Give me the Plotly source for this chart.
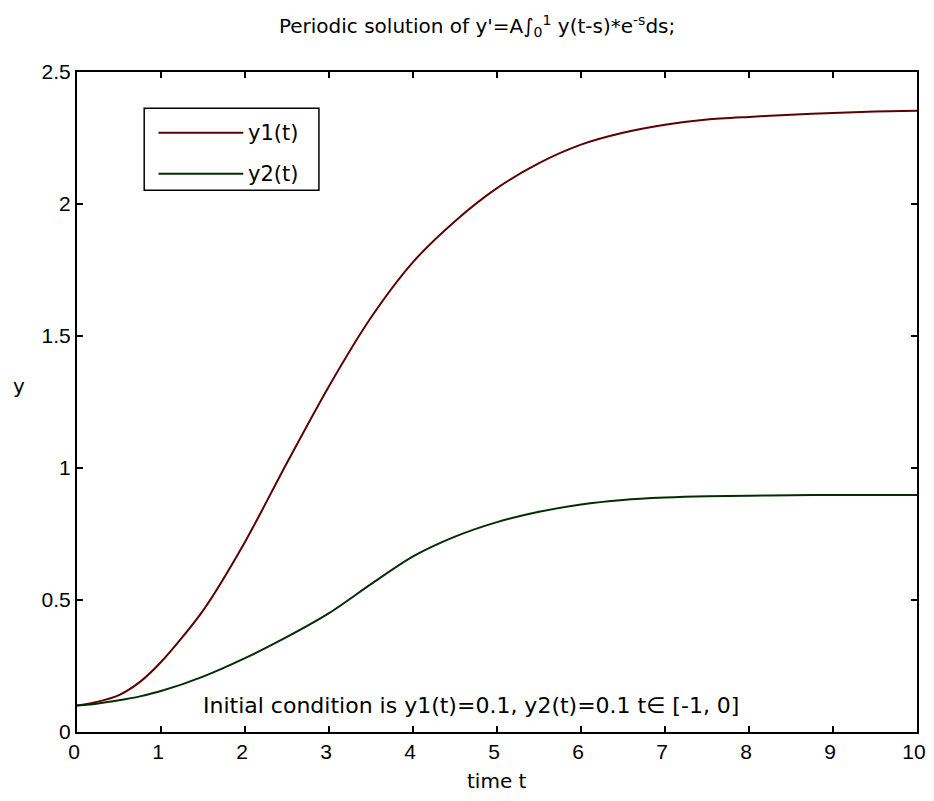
import plotly.graph_objects as go

# values
t = [0, 0.25, 0.5, 0.75, 1, 1.5, 2, 2.5, 3, 3.5, 4, 4.5, 5, 5.5, 6, 6.5, 7, 7.5, 8, 8.5, 9, 9.5, 10]
y1 = [0.10, 0.115, 0.14, 0.19, 0.265, 0.46, 0.72, 1.02, 1.31, 1.57, 1.78, 1.935, 2.06, 2.155,
      2.225, 2.27, 2.30, 2.32, 2.33, 2.338, 2.345, 2.35, 2.353]
y2 = [0.10, 0.108, 0.12, 0.135, 0.155, 0.21, 0.28, 0.36, 0.45, 0.56, 0.665, 0.74, 0.795,
      0.834, 0.862, 0.879, 0.888, 0.893, 0.895, 0.897, 0.898, 0.898, 0.898]

x_ticks = [0, 1, 2, 3, 4, 5, 6, 7, 8, 9, 10]
y_ticks = [0, 0.5, 1, 1.5, 2, 2.5]
y_tick_text = ["0", "0.5", "1", "1.5", "2", "2.5"]

names = ["y1(t)", "y2(t)"]
colors = ["#5c0000", "#002e00"]

TICK_FONT = "Liberation Sans, Arial, sans-serif"
TEXT_FONT = "DejaVu Sans, Liberation Sans, sans-serif"

fig = go.Figure()
for ys, name, col in zip([y1, y2], names, colors):
    fig.add_trace(go.Scatter(x=t, y=ys, mode="lines", name=name,
                             line=dict(color=col, width=2, shape="spline", smoothing=0.8),
                             showlegend=False))

axis_style = dict(showline=True, linecolor="black", linewidth=2, mirror="ticks",
                  ticks="inside", ticklen=6, tickwidth=2, tickcolor="black",
                  showgrid=False, zeroline=False, automargin=False,
                  ticklabeloverflow="allow",
                  tickfont=dict(family=TICK_FONT, size=21, color="black"))

fig.update_xaxes(range=[0, 10], tickvals=x_ticks, ticklabelshift=-3, **axis_style)
fig.update_yaxes(range=[0, 2.5], tickvals=y_ticks, ticktext=y_tick_text, **axis_style)

# legend box drawn by hand to match the MATLAB look
fig.add_shape(type="rect", xref="paper", yref="paper", x0=0.080, x1=0.288, y0=0.821, y1=0.945,
              line=dict(color="black", width=1.5), fillcolor="white", layer="above")
for i, (name, col) in enumerate(zip(names, colors)):
    yy = 0.908 - i * 0.062
    fig.add_shape(type="line", xref="paper", yref="paper", x0=0.097, x1=0.198, y0=yy, y1=yy,
                  line=dict(color=col, width=2), layer="above")
    fig.add_annotation(xref="paper", yref="paper", x=0.201, y=yy, text=name, showarrow=False,
                       xanchor="left", yanchor="middle",
                       font=dict(family=TEXT_FONT, size=21, color="black"))

# axis labels as annotations so they can sit where the MATLAB ones do
fig.add_annotation(xref="paper", yref="paper", x=0.5, y=-0.074, text="time t", showarrow=False,
                   xanchor="center", yanchor="middle",
                   font=dict(family=TEXT_FONT, size=20, color="black"))
fig.add_annotation(xref="paper", yref="paper", x=-0.079, y=0.525, text="y", showarrow=False,
                   font=dict(family=TEXT_FONT, size=20, color="black"))
fig.add_annotation(x=4.69, y=0.10, text="Initial condition is y1(t)=0.1, y2(t)=0.1 t\u2208 [-1, 0]",
                   showarrow=False, xanchor="center", yanchor="middle",
                   font=dict(family=TEXT_FONT, size=22, color="black"))

# page body adds an 8px margin on each side, so the figure is 16px smaller than the window
fig.update_layout(
    width=918, height=785,
    paper_bgcolor="white", plot_bgcolor="white",
    margin=dict(l=69, r=9, t=64, b=61, autoexpand=False),
    title=dict(text="Periodic solution of y'=A\u222b<sub>0</sub><sup>1</sup> y(t-s)*e<sup>-s</sup>ds;",
               x=0.511, xanchor="center", y=0.977, yanchor="middle",
               font=dict(family=TEXT_FONT, size=20, color="black")),
)

fig.write_html("out.html")
